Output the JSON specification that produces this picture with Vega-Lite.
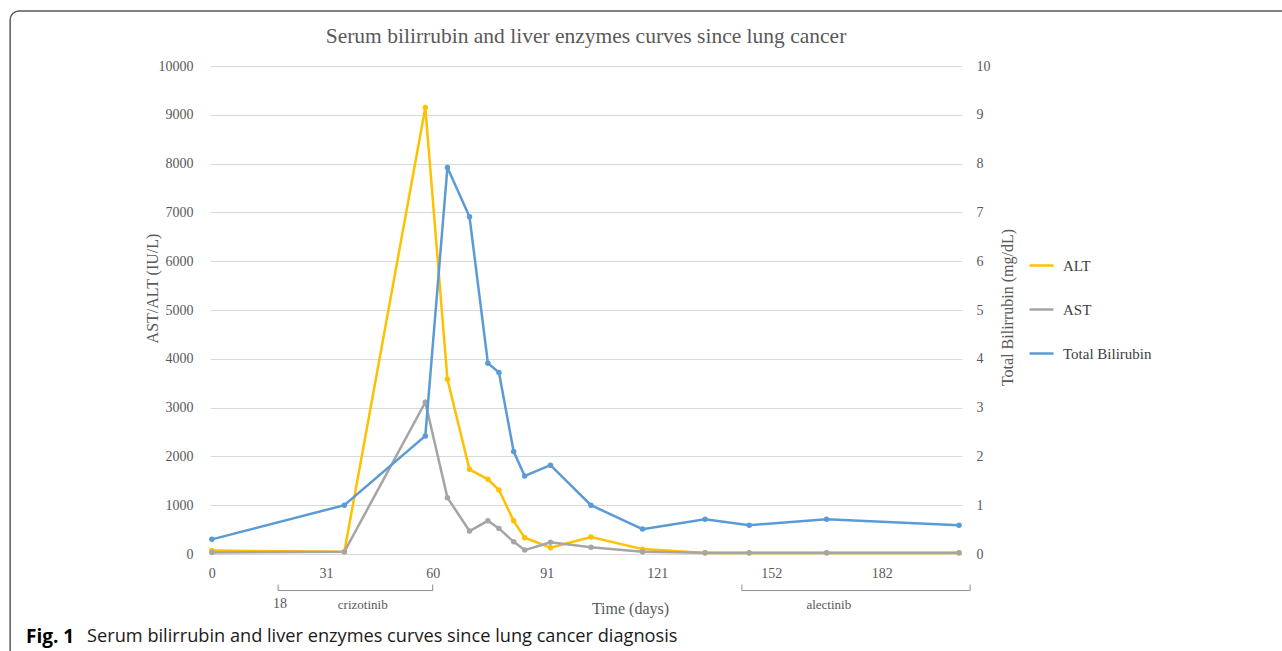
{
  "$schema": "https://vega.github.io/schema/vega-lite/v6.json",
  "autosize": {"type": "none"},
  "width": 752,
  "height": 488,
  "padding": {"left": 210, "top": 66, "right": 320, "bottom": 97},
  "background": "white",
  "title": {
    "text": "Serum bilirrubin and liver enzymes curves since lung cancer",
    "font": "Liberation Serif",
    "fontSize": 21.5,
    "fontWeight": "normal",
    "color": "#595959",
    "anchor": "middle",
    "frame": "group",
    "offset": 20,
    "dy": 57
  },
  "config": {
    "view": {"stroke": null},
    "axis": {
      "labelFont": "Liberation Serif",
      "labelFontSize": 14,
      "labelColor": "#595959",
      "titleFont": "Liberation Serif",
      "titleFontSize": 16,
      "titleFontWeight": "normal",
      "titleColor": "#595959",
      "ticks": false,
      "domain": false
    }
  },
  "datasets": {
    "enz": [
      {"day": 0, "series": "ALT", "value": 70},
      {"day": 36, "series": "ALT", "value": 45},
      {"day": 58, "series": "ALT", "value": 9150},
      {"day": 64, "series": "ALT", "value": 3580},
      {"day": 70, "series": "ALT", "value": 1735},
      {"day": 75, "series": "ALT", "value": 1530},
      {"day": 78, "series": "ALT", "value": 1310},
      {"day": 82, "series": "ALT", "value": 680},
      {"day": 85, "series": "ALT", "value": 335},
      {"day": 92, "series": "ALT", "value": 130},
      {"day": 103, "series": "ALT", "value": 350},
      {"day": 117, "series": "ALT", "value": 100},
      {"day": 134, "series": "ALT", "value": 22},
      {"day": 146, "series": "ALT", "value": 22},
      {"day": 167, "series": "ALT", "value": 22},
      {"day": 203, "series": "ALT", "value": 22},
      {"day": 0, "series": "AST", "value": 30},
      {"day": 36, "series": "AST", "value": 45},
      {"day": 58, "series": "AST", "value": 3110},
      {"day": 64, "series": "AST", "value": 1155},
      {"day": 70, "series": "AST", "value": 470},
      {"day": 75, "series": "AST", "value": 680},
      {"day": 78, "series": "AST", "value": 525},
      {"day": 82, "series": "AST", "value": 250},
      {"day": 85, "series": "AST", "value": 80},
      {"day": 92, "series": "AST", "value": 240},
      {"day": 103, "series": "AST", "value": 140},
      {"day": 117, "series": "AST", "value": 45},
      {"day": 134, "series": "AST", "value": 27},
      {"day": 146, "series": "AST", "value": 27},
      {"day": 167, "series": "AST", "value": 27},
      {"day": 203, "series": "AST", "value": 27}
    ],
    "bili": [
      {"day": 0, "series": "Total Bilirubin", "value": 0.3},
      {"day": 36, "series": "Total Bilirubin", "value": 1.0},
      {"day": 58, "series": "Total Bilirubin", "value": 2.42},
      {"day": 64, "series": "Total Bilirubin", "value": 7.92},
      {"day": 70, "series": "Total Bilirubin", "value": 6.91},
      {"day": 75, "series": "Total Bilirubin", "value": 3.91},
      {"day": 78, "series": "Total Bilirubin", "value": 3.72},
      {"day": 82, "series": "Total Bilirubin", "value": 2.1},
      {"day": 85, "series": "Total Bilirubin", "value": 1.6},
      {"day": 92, "series": "Total Bilirubin", "value": 1.82},
      {"day": 103, "series": "Total Bilirubin", "value": 1.0},
      {"day": 117, "series": "Total Bilirubin", "value": 0.51},
      {"day": 134, "series": "Total Bilirubin", "value": 0.71},
      {"day": 146, "series": "Total Bilirubin", "value": 0.59},
      {"day": 167, "series": "Total Bilirubin", "value": 0.71},
      {"day": 203, "series": "Total Bilirubin", "value": 0.59}
    ],
    "treat": [
      {"drug": "crizotinib", "start": 18, "end": 60},
      {"drug": "alectinib", "start": 144, "end": 206}
    ]
  },
  "layer": [
    {
      "layer": [
        {
          "data": {"values": [{}]},
          "mark": {"type": "rect", "filled": false, "stroke": "#5a5a5a", "strokeWidth": 1.5, "cornerRadius": 9},
          "encoding": {
            "x": {"datum": -54.8, "type": "quantitative", "scale": {"domain": [-0.5, 203.8], "nice": false, "zero": false}},
            "x2": {"datum": 320},
            "y": {"datum": 11128, "type": "quantitative", "scale": {"domain": [0, 10000], "nice": false, "zero": false}},
            "y2": {"datum": -3500}
          }
        },
        {
          "data": {"name": "treat"},
          "mark": {"type": "rule", "color": "#8c8c8c", "strokeWidth": 1},
          "encoding": {
            "x": {"field": "start", "type": "quantitative", "scale": {"domain": [-0.5, 203.8], "nice": false, "zero": false}},
            "x2": {"field": "end"},
            "y": {"datum": -749, "type": "quantitative", "scale": {"domain": [0, 10000], "nice": false, "zero": false}}
          }
        },
        {
          "data": {"name": "treat"},
          "mark": {"type": "rule", "color": "#8c8c8c", "strokeWidth": 1},
          "encoding": {
            "x": {"field": "start", "type": "quantitative", "scale": {"domain": [-0.5, 203.8], "nice": false, "zero": false}},
            "y": {"datum": -626, "type": "quantitative", "scale": {"domain": [0, 10000], "nice": false, "zero": false}},
            "y2": {"datum": -749}
          }
        },
        {
          "data": {"name": "treat"},
          "mark": {"type": "rule", "color": "#8c8c8c", "strokeWidth": 1},
          "encoding": {
            "x": {"field": "end", "type": "quantitative", "scale": {"domain": [-0.5, 203.8], "nice": false, "zero": false}},
            "y": {"datum": -626, "type": "quantitative", "scale": {"domain": [0, 10000], "nice": false, "zero": false}},
            "y2": {"datum": -749}
          }
        },
        {
          "data": {"values": [{}]},
          "mark": {"type": "text", "font": "Liberation Serif", "fontSize": 14, "color": "#595959", "align": "center", "baseline": "middle", "text": "18"},
          "encoding": {
            "x": {"datum": 18.5, "type": "quantitative", "scale": {"domain": [-0.5, 203.8], "nice": false, "zero": false}},
            "y": {"datum": -1015, "type": "quantitative", "scale": {"domain": [0, 10000], "nice": false, "zero": false}}
          }
        },
        {
          "data": {"values": [{}]},
          "mark": {"type": "text", "font": "Liberation Serif", "fontSize": 13, "color": "#595959", "align": "center", "baseline": "middle", "text": "crizotinib"},
          "encoding": {
            "x": {"datum": 41, "type": "quantitative", "scale": {"domain": [-0.5, 203.8], "nice": false, "zero": false}},
            "y": {"datum": -1036, "type": "quantitative", "scale": {"domain": [0, 10000], "nice": false, "zero": false}}
          }
        },
        {
          "data": {"values": [{}]},
          "mark": {"type": "text", "font": "Liberation Serif", "fontSize": 13, "color": "#595959", "align": "center", "baseline": "middle", "text": "alectinib"},
          "encoding": {
            "x": {"datum": 167.6, "type": "quantitative", "scale": {"domain": [-0.5, 203.8], "nice": false, "zero": false}},
            "y": {"datum": -1036, "type": "quantitative", "scale": {"domain": [0, 10000], "nice": false, "zero": false}}
          }
        },
        {
          "data": {"values": [{}]},
          "mark": {"type": "text", "font": "Open Sans", "fontSize": 19, "fontWeight": "bold", "color": "#000000", "align": "left", "baseline": "middle", "text": "Fig. 1"},
          "encoding": {
            "x": {"datum": -50.5, "type": "quantitative", "scale": {"domain": [-0.5, 203.8], "nice": false, "zero": false}},
            "y": {"datum": -1692, "type": "quantitative", "scale": {"domain": [0, 10000], "nice": false, "zero": false}}
          }
        },
        {
          "data": {"values": [{}]},
          "mark": {"type": "text", "font": "Open Sans", "fontSize": 18.2, "color": "#1a1a1a", "align": "left", "baseline": "middle", "text": "Serum bilirrubin and liver enzymes curves since lung cancer diagnosis"},
          "encoding": {
            "x": {"datum": -33.9, "type": "quantitative", "scale": {"domain": [-0.5, 203.8], "nice": false, "zero": false}},
            "y": {"datum": -1692, "type": "quantitative", "scale": {"domain": [0, 10000], "nice": false, "zero": false}}
          }
        },
        {
          "data": {"name": "enz"},
          "mark": {"type": "line", "strokeWidth": 2.5, "point": {"filled": true, "size": 30}},
          "encoding": {
            "x": {
              "field": "day", "type": "quantitative",
              "scale": {"domain": [-0.5, 203.8], "nice": false, "zero": false},
              "axis": {"title": "Time (days)", "values": [0, 31, 60, 91, 121, 152, 182], "grid": false, "labelPadding": 12, "titleX": 420, "titleY": 54, "titleBaseline": "middle", "titleAlign": "center"}
            },
            "y": {
              "field": "value", "type": "quantitative",
              "scale": {"domain": [0, 10000], "nice": false, "zero": false},
              "axis": {"title": "AST/ALT (IU/L)", "orient": "left", "format": "d", "values": [0, 1000, 2000, 3000, 4000, 5000, 6000, 7000, 8000, 9000, 10000], "grid": true, "gridColor": "#d9d9d9", "gridWidth": 1, "labelPadding": 17, "titleX": -58, "titleY": 222, "titleBaseline": "middle", "titleAlign": "center", "titleAngle": 270}
            },
            "color": {
              "field": "series", "type": "nominal",
              "scale": {"domain": ["ALT", "AST", "Total Bilirubin"], "range": ["#FFC000", "#A5A5A5", "#5B9BD5"]},
              "legend": {"title": null, "orient": "none", "legendX": 818, "legendY": 186, "symbolType": "stroke", "symbolSize": 576, "symbolStrokeWidth": 2.5, "labelFont": "Liberation Serif", "labelFontSize": 15, "labelColor": "#404040", "labelOffset": 8, "rowPadding": 22}
            },
            "order": {"field": "series"}
          }
        }
      ]
    },
    {
      "data": {"name": "bili"},
      "mark": {"type": "line", "strokeWidth": 2.5, "point": {"filled": true, "size": 30}},
      "encoding": {
        "x": {"field": "day", "type": "quantitative", "scale": {"domain": [-0.5, 203.8], "nice": false, "zero": false}},
        "y": {
          "field": "value", "type": "quantitative",
          "scale": {"domain": [0, 10], "nice": false, "zero": false},
          "axis": {"title": "Total Bilirrubin  (mg/dL)", "orient": "right", "values": [0, 1, 2, 3, 4, 5, 6, 7, 8, 9, 10], "grid": false, "labelPadding": 14, "titleX": 45, "titleY": 241, "titleBaseline": "middle", "titleAlign": "center", "titleAngle": 270}
        },
        "color": {
          "field": "series", "type": "nominal",
          "scale": {"domain": ["ALT", "AST", "Total Bilirubin"], "range": ["#FFC000", "#A5A5A5", "#5B9BD5"]}
        }
      }
    }
  ],
  "resolve": {"scale": {"y": "independent"}}
}
